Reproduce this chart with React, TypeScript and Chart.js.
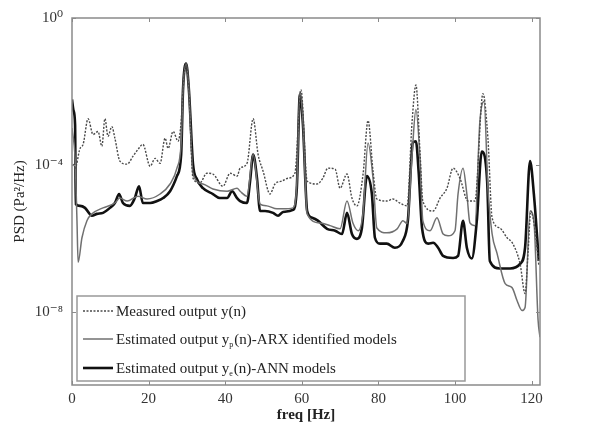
import React, { useEffect, useRef } from "react";
import { Chart, registerables } from "chart.js";

Chart.register(...registerables);

const SERIF = "'Liberation Serif', 'DejaVu Serif', serif";

// Power spectral density, [frequency in Hz, PSD in Pa^2/Hz]
const measured: [number, number][] = [
  [0.26, 1.04e-4], [0.8, 8.1e-5], [2.1, 2.8e-4], [2.9, 3.6e-4], [4.2, 1.8e-3], [5.5, 6.7e-4],
  [6.8, 8.1e-4], [7.8, 3.2e-4], [8.6, 1.8e-3], [9.4, 6.0e-4], [10.4, 1.1e-3], [11.2, 5.3e-4],
  [12.5, 1.26e-4], [14.4, 1.04e-4], [15.9, 1.7e-4], [17.2, 2.6e-4], [18.5, 3.6e-4], [20.4, 9.1e-5],
  [21.7, 1.5e-4], [23.0, 1.1e-4], [24.3, 5.3e-4], [25.1, 2.8e-4], [26.4, 8.1e-4], [27.7, 4.4e-4],
  [28.5, 1.5e-3], [29.0, 1.2e-2], [29.8, 5.7e-2], [30.5, 1.2e-2], [31.6, 4.3e-5], [33.4, 3.2e-5],
  [35.2, 5.9e-5], [36.8, 5.6e-5], [39.4, 2.6e-5], [41.3, 5.9e-5], [43.1, 4.9e-5], [43.9, 8.1e-5],
  [45.7, 1.1e-4], [47.3, 1.8e-3], [48.6, 1.9e-4], [49.9, 6.7e-5], [51.7, 1.6e-5], [53.0, 3.0e-5],
  [54.8, 3.6e-5], [56.4, 4.3e-5], [58.2, 5.9e-5], [59.8, 1.1e-2], [61.4, 3.6e-5], [64.0, 3.0e-5],
  [65.5, 4.3e-5], [66.8, 8.1e-5], [68.7, 7.6e-5], [70.0, 2.3e-5], [71.8, 5.6e-5], [73.1, 1.24e-5],
  [74.4, 7.6e-6], [76.0, 5.6e-5], [77.3, 1.6e-3], [78.6, 6.7e-5], [79.6, 1.17e-5], [82.2, 1.03e-5],
  [83.8, 1.17e-5], [85.6, 9.1e-6], [87.5, 7.6e-6], [88.8, 1.5e-3], [89.8, 1.5e-2], [90.9, 1.9e-4],
  [91.6, 1.03e-5], [94.3, 5.5e-6], [96.1, 1.24e-5], [97.9, 2.3e-5], [99.5, 8.1e-5], [101.3, 4.3e-5],
  [103.4, 1.03e-5], [105.2, 1.03e-5], [107.3, 8.7e-3], [108.6, 5.3e-4], [109.7, 3.6e-6], [111.7, 1.9e-6],
  [113.6, 1.03e-6], [115.1, 7.1e-7], [117.0, 2.0e-7], [118.3, 3.1e-8], [119.1, 4.6e-7], [119.8, 5.5e-6],
  [120.9, 1.6e-6], [121.9, 1.8e-7],
];

const arx: [number, number][] = [
  [0, 1.0e-3], [0.8, 1.5e-4], [1.3, 3.0e-6], [1.6, 2.2e-7], [2.6, 1.03e-6], [3.9, 3.0e-6],
  [5.2, 4.6e-6], [8.1, 6.7e-6], [11.2, 9.1e-6], [12.5, 1.24e-5], [14.4, 1.03e-5], [17.2, 1.4e-5],
  [19.6, 1.17e-5], [23.0, 1.6e-5], [25.6, 3.0e-5], [27.4, 8.1e-5], [28.5, 3.9e-4], [29.0, 1.2e-2],
  [29.8, 5.7e-2], [30.5, 1.2e-2], [31.6, 5.6e-5], [34.2, 3.0e-5], [36.8, 2.2e-5], [40.5, 1.9e-5],
  [43.1, 2.3e-5], [43.9, 1.9e-5], [45.7, 1.4e-5], [47.3, 1.9e-4], [49.1, 8.5e-6], [50.9, 7.6e-6],
  [53.5, 6.3e-6], [55.1, 6.3e-6], [57.7, 6.7e-6], [58.7, 3.0e-5], [59.5, 9.8e-3], [60.3, 1.5e-3],
  [61.4, 4.6e-6], [64.8, 2.6e-6], [67.4, 2.2e-6], [70.0, 1.8e-6], [71.8, 1.03e-5], [73.4, 2.5e-6],
  [74.7, 1.6e-6], [76.0, 5.0e-6], [77.3, 3.9e-4], [78.6, 4.3e-5], [79.6, 1.9e-6], [82.2, 1.4e-6],
  [84.9, 1.8e-6], [86.4, 3.0e-6], [87.5, 2.5e-6], [88.8, 1.9e-4], [89.8, 3.2e-3], [90.9, 1.26e-4],
  [91.6, 3.0e-6], [93.5, 1.6e-6], [95.3, 3.6e-6], [96.9, 1.3e-6], [98.2, 1.17e-6], [100.0, 1.6e-6],
  [100.8, 1.6e-5], [102.1, 8.1e-5], [103.1, 1.6e-5], [103.9, 2.6e-6], [105.2, 2.2e-6], [106.5, 1.5e-3],
  [107.6, 5.3e-3], [108.6, 2.3e-5], [109.7, 1.3e-6], [111.0, 3.8e-7], [113.1, 5.8e-8], [114.9, 4.5e-8],
  [116.2, 2.0e-8], [117.5, 1.07e-8], [118.3, 1.3e-8], [119.6, 5.5e-6], [120.6, 3.0e-6], [121.7, 5.8e-9],
  [122.2, 2.0e-9],
];

const ann: [number, number][] = [
  [0, 6.0e-3], [0.4, 3.0e-3], [0.8, 1.26e-3], [1.0, 8.5e-6], [2.1, 7.6e-6], [3.4, 6.7e-6],
  [5.2, 4.1e-6], [6.5, 4.6e-6], [8.1, 4.9e-6], [9.9, 6.7e-6], [11.2, 9.1e-6], [12.3, 1.6e-5],
  [13.3, 9.1e-6], [15.1, 7.6e-6], [16.4, 1.24e-5], [17.5, 2.6e-5], [18.5, 9.1e-6], [20.4, 9.1e-6],
  [22.2, 1.03e-5], [23.8, 1.24e-5], [25.6, 1.9e-5], [27.4, 4.9e-5], [28.5, 1.9e-4], [29.0, 1.2e-2],
  [29.8, 5.7e-2], [30.5, 1.2e-2], [31.6, 1.04e-4], [32.6, 4.1e-5], [34.2, 2.3e-5], [36.8, 1.6e-5],
  [38.6, 1.24e-5], [40.5, 1.24e-5], [41.8, 1.9e-5], [43.1, 1.24e-5], [43.9, 1.03e-5], [45.7, 9.1e-6],
  [46.5, 3.6e-5], [47.3, 1.9e-4], [48.3, 4.3e-5], [49.1, 5.5e-6], [50.4, 5.5e-6], [52.5, 4.9e-6],
  [53.8, 4.1e-6], [55.1, 5.2e-6], [57.7, 5.9e-6], [58.7, 2.3e-5], [59.5, 8.2e-3], [60.3, 1.26e-3],
  [61.4, 5.5e-6], [62.7, 3.6e-6], [64.2, 3.0e-6], [66.6, 1.8e-6], [68.7, 1.6e-6], [70.5, 1.3e-6],
  [71.8, 4.9e-6], [73.1, 1.3e-6], [74.4, 9.6e-7], [75.7, 1.9e-6], [77.0, 4.9e-5], [78.3, 1.6e-5],
  [79.1, 1.03e-6], [80.4, 7.1e-7], [82.2, 7.1e-7], [84.3, 5.5e-7], [86.4, 8.5e-7], [87.7, 3.0e-6],
  [89.0, 4.0e-4], [89.8, 4.4e-4], [90.5, 6.7e-5], [91.4, 1.9e-6], [93.0, 7.1e-7], [94.3, 7.5e-7],
  [95.6, 5.5e-7], [96.9, 3.3e-7], [99.5, 2.9e-7], [100.8, 3.3e-7], [102.1, 3.0e-6], [103.1, 5.5e-7],
  [104.4, 2.8e-7], [105.7, 3.0e-6], [107.0, 2.3e-4], [108.4, 3.6e-5], [109.1, 2.4e-7], [111.7, 1.5e-7],
  [114.4, 1.5e-7], [117.0, 2.0e-7], [118.3, 5.5e-7], [119.6, 1.26e-4], [120.6, 1.6e-5], [121.9, 2.4e-7],
];

// Legend text: [before subscript, subscript, after subscript]
const seriesLabels: [string, string, string][] = [
  ["Measured output y(n)", "", ""],
  ["Estimated output y", "p", "(n)-ARX identified models"],
  ["Estimated output y", "e", "(n)-ANN models"],
];

const freqTicks = [0, 20, 40, 60, 80, 100, 120];
const psdTicks = [1, 1e-4, 1e-8];

const SUP: Record<string, string> = {
  "0": "⁰", "1": "¹", "2": "²", "3": "³", "4": "⁴", "5": "⁵", "6": "⁶", "7": "⁷", "8": "⁸", "9": "⁹", "-": "⁻",
};
const decadeLabel = (v: number) =>
  "10" + String(Math.round(Math.log10(v))).split("").map((c) => SUP[c] ?? c).join("");

const toPoints = (pairs: [number, number][]) => pairs.map(([x, y]) => ({ x, y }));

// Box around the plot area with inward-pointing tick marks on all four sides
const frameTicks = {
  id: "frameTicks",
  afterDatasetsDraw(chart: any) {
    const { ctx, chartArea: a, scales } = chart;
    ctx.save();
    ctx.strokeStyle = "#8a8a8a";
    ctx.lineWidth = 1.5;
    ctx.strokeRect(a.left, a.top, a.right - a.left, a.bottom - a.top);
    ctx.lineWidth = 1;
    const len = 4;
    ctx.beginPath();
    for (const t of scales.x.ticks) {
      const px = Math.round(scales.x.getPixelForValue(t.value)) + 0.5;
      ctx.moveTo(px, a.bottom);
      ctx.lineTo(px, a.bottom - len);
      ctx.moveTo(px, a.top);
      ctx.lineTo(px, a.top + len);
    }
    for (const t of scales.y.ticks) {
      const py = Math.round(scales.y.getPixelForValue(t.value)) + 0.5;
      ctx.moveTo(a.left, py);
      ctx.lineTo(a.left + len, py);
      ctx.moveTo(a.right, py);
      ctx.lineTo(a.right - len, py);
    }
    ctx.stroke();
    ctx.restore();
  },
};

// Framed legend sitting in the lower-left corner of the plot area
const boxedLegend = {
  id: "boxedLegend",
  afterDraw(chart: any) {
    const { ctx, chartArea: a } = chart;
    const left = a.left + 5;
    const right = a.left + 393;
    const top = a.bottom - 89;
    const bottom = a.bottom - 4;
    ctx.save();
    ctx.fillStyle = "#ffffff";
    ctx.fillRect(left, top, right - left, bottom - top);
    ctx.strokeStyle = "#999999";
    ctx.lineWidth = 1.5;
    ctx.strokeRect(left, top, right - left, bottom - top);
    const rows = [15, 43, 72];
    chart.data.datasets.forEach((ds: any, i: number) => {
      const y = top + rows[i];
      ctx.strokeStyle = ds.borderColor;
      ctx.lineWidth = ds.borderWidth;
      ctx.setLineDash(ds.borderDash || []);
      ctx.beginPath();
      ctx.moveTo(left + 6, y);
      ctx.lineTo(left + 36, y);
      ctx.stroke();
      ctx.setLineDash([]);
      const [pre, sub, post] = seriesLabels[i];
      ctx.fillStyle = "#222222";
      ctx.textBaseline = "middle";
      ctx.textAlign = "left";
      let x = left + 39;
      ctx.font = `15px ${SERIF}`;
      ctx.fillText(pre, x, y + 1);
      x += ctx.measureText(pre).width;
      if (sub) {
        ctx.font = `8px ${SERIF}`;
        ctx.fillText(sub, x, y + 6);
        x += ctx.measureText(sub).width + 1;
        ctx.font = `15px ${SERIF}`;
        ctx.fillText(post, x, y + 1);
      }
    });
    ctx.restore();
  },
};

export default function App() {
  const canvasRef = useRef<HTMLCanvasElement | null>(null);

  useEffect(() => {
    const canvas = canvasRef.current;
    if (!canvas) return;
    const common = { pointRadius: 0, cubicInterpolationMode: "monotone", borderJoinStyle: "round" };
    const chart = new Chart(canvas, {
      type: "line",
      data: {
        datasets: [
          {
            ...common,
            label: seriesLabels[0].join(""),
            data: toPoints(measured),
            borderColor: "#4a4a4a",
            borderWidth: 1.4,
            borderDash: [2, 1.5],
          },
          {
            ...common,
            label: seriesLabels[1].join(""),
            data: toPoints(arx),
            borderColor: "#707070",
            borderWidth: 1.5,
          },
          {
            ...common,
            label: seriesLabels[2].join(""),
            data: toPoints(ann),
            borderColor: "#111111",
            borderWidth: 2.6,
          },
        ],
      },
      options: {
        responsive: false,
        animation: false,
        events: [],
        layout: { padding: { top: 16, right: 54, left: 0, bottom: 0 } },
        plugins: { legend: { display: false }, tooltip: { enabled: false } },
        scales: {
          x: {
            type: "linear",
            min: 0,
            max: 122.2,
            afterBuildTicks: (scale: any) => {
              scale.ticks = freqTicks.map((value) => ({ value }));
            },
            afterFit: (scale: any) => {
              scale.height = 47;
            },
            grid: { display: false, drawTicks: false },
            border: { display: false },
            ticks: {
              color: "#333333",
              font: { family: SERIF, size: 15 },
              padding: 5,
              maxRotation: 0,
              autoSkip: false,
            },
            title: {
              display: true,
              text: "freq [Hz]",
              color: "#222222",
              font: { family: SERIF, size: 15, weight: "bold" },
              padding: { top: 0, bottom: 8 },
            },
          },
          y: {
            type: "logarithmic",
            min: 1e-10,
            max: 1,
            afterBuildTicks: (scale: any) => {
              scale.ticks = psdTicks.map((value) => ({ value }));
            },
            afterFit: (scale: any) => {
              scale.width = 72;
            },
            grid: { display: false, drawTicks: false },
            border: { display: false },
            ticks: {
              color: "#333333",
              font: { family: SERIF, size: 15 },
              padding: 9,
              autoSkip: false,
              callback: (value: any) => decadeLabel(Number(value)),
            },
            title: {
              display: true,
              text: "PSD (Pa²/Hz)",
              color: "#222222",
              font: { family: SERIF, size: 15 },
              padding: { top: 11, bottom: 0 },
            },
          },
        },
      },
      plugins: [frameTicks, boxedLegend],
    } as any);
    return () => chart.destroy();
  }, []);

  return (
    <div style={{ position: "fixed", left: 0, top: 0, width: 594, height: 432, background: "#ffffff" }}>
      <canvas ref={canvasRef} width={594} height={432} style={{ display: "block" }} />
    </div>
  );
}
